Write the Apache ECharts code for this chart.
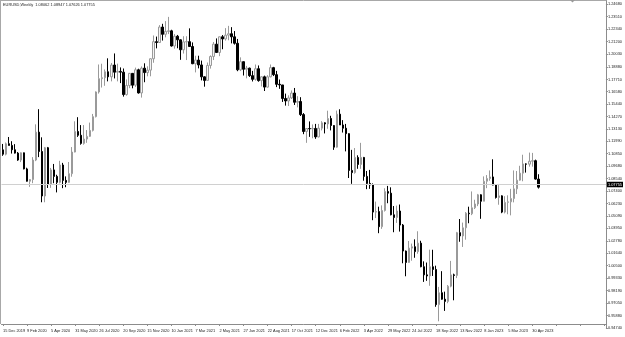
<!DOCTYPE html>
<html><head><meta charset="utf-8">
<script src="https://cdn.jsdelivr.net/npm/echarts@6/dist/echarts.min.js"></script>
<style>html,body{margin:0;padding:0;background:#fff}#c{width:625px;height:337px}</style>
</head><body><div id="c"></div>
<script>
const titleText = 'EURUSD,Weekly  1.08062 1.08947 1.07626 1.07755';
const dateLabels = ['15 Dec 2019','9 Feb 2020','5 Apr 2020','31 May 2020','26 Jul 2020','20 Sep 2020','15 Nov 2020','10 Jan 2021','7 Mar 2021','2 May 2021','27 Jun 2021','22 Aug 2021','17 Oct 2021','12 Dec 2021','6 Feb 2022','3 Apr 2022','29 May 2022','24 Jul 2022','18 Sep 2022','13 Nov 2022','8 Jan 2023','5 Mar 2023','30 Apr 2023'];
const priceLabels = ['1.24680','1.23510','1.22340','1.21200','1.20030','1.18880','1.17710','1.16580','1.15440','1.14270','1.13130','1.11990','1.10850','1.09680','1.08540','1.07400','1.06230','1.05090','1.03950','1.02780','1.01640','1.00500','0.99330','0.98190','0.97050','0.95880','0.94740'];
const lastPrice = 1.07755;

const openV = [
1.1120,1.1080,1.1177,1.1161,1.1121,1.1090,1.1026,1.1093,1.0944,1.0830,
1.0846,1.1026,1.1284,1.1105,1.0694,1.1140,1.0803,1.0935,1.0875,1.0820,
1.0980,1.0838,1.0820,1.0900,1.1100,1.1290,1.1255,1.1180,1.1220,1.1245,
1.1300,1.1427,1.1655,1.1778,1.1787,1.1842,1.1795,1.1904,1.1838,1.1845,
1.1838,1.1631,1.1715,1.1827,1.1718,1.1860,1.1646,1.1875,1.1834,1.1857,
1.1962,1.2120,1.2112,1.2255,1.2188,1.2215,1.2220,1.2080,1.2170,1.2137,
1.2045,1.2118,1.2120,1.2075,1.1916,1.1950,1.1905,1.1795,1.1762,1.1900,
1.1983,1.2097,1.2020,1.2165,1.2145,1.2180,1.2193,1.2165,1.2105,1.1860,
1.1935,1.1865,1.1875,1.1806,1.1772,1.1870,1.1760,1.1795,1.1700,1.1795,
1.1880,1.1815,1.1726,1.1720,1.1595,1.1572,1.1600,1.1645,1.1560,1.1567,
1.1446,1.1290,1.1317,1.1315,1.1318,1.1240,1.1320,1.1370,1.1360,1.1410,
1.1345,1.1145,1.1450,1.1350,1.1320,1.1270,1.0930,1.0910,1.1050,1.0985,
1.1050,1.0875,1.0810,1.0795,1.0545,1.0550,1.0410,1.0560,1.0735,1.0720,
1.0520,1.0495,1.0555,1.0425,1.0185,1.0080,1.0212,1.0225,1.0180,1.0258,
1.0040,0.9965,0.9955,1.0040,1.0015,0.9690,0.9800,0.9740,0.9720,0.9860,
0.9965,0.9960,1.0355,1.0325,1.0400,1.0535,1.0530,1.0585,1.0620,1.0705,
1.0645,1.0830,1.0855,1.0870,1.0795,1.0680,1.0695,1.0545,1.0635,1.0640,
1.0670,1.0760,1.0840,1.0905,1.0990,1.0988,1.1015,1.1020,1.0850];

const closeV = [
1.1080,1.1177,1.1161,1.1121,1.1090,1.1026,1.1093,1.0944,1.0830,1.0846,
1.1026,1.1284,1.1105,1.0694,1.1140,1.0803,1.0935,1.0875,1.0820,1.0980,
1.0838,1.0820,1.0900,1.1100,1.1290,1.1255,1.1180,1.1220,1.1245,1.1300,
1.1427,1.1655,1.1778,1.1787,1.1842,1.1795,1.1904,1.1838,1.1845,1.1838,
1.1631,1.1715,1.1827,1.1718,1.1860,1.1646,1.1875,1.1834,1.1857,1.1962,
1.2120,1.2112,1.2255,1.2188,1.2215,1.2220,1.2080,1.2170,1.2137,1.2045,
1.2118,1.2120,1.2075,1.1916,1.1950,1.1905,1.1795,1.1762,1.1900,1.1983,
1.2097,1.2020,1.2165,1.2145,1.2180,1.2193,1.2165,1.2105,1.1860,1.1935,
1.1865,1.1875,1.1806,1.1772,1.1870,1.1760,1.1795,1.1700,1.1795,1.1880,
1.1815,1.1726,1.1720,1.1595,1.1572,1.1600,1.1645,1.1560,1.1567,1.1446,
1.1290,1.1317,1.1315,1.1318,1.1240,1.1320,1.1370,1.1360,1.1410,1.1345,
1.1145,1.1450,1.1350,1.1320,1.1270,1.0930,1.0910,1.1050,1.0985,1.1050,
1.0875,1.0810,1.0795,1.0545,1.0550,1.0410,1.0560,1.0735,1.0720,1.0520,
1.0495,1.0555,1.0425,1.0185,1.0080,1.0212,1.0225,1.0180,1.0258,1.0040,
0.9965,0.9955,1.0040,1.0015,0.9690,0.9800,0.9740,0.9720,0.9860,0.9965,
0.9960,1.0355,1.0325,1.0400,1.0535,1.0530,1.0585,1.0620,1.0705,1.0645,
1.0830,1.0855,1.0870,1.0795,1.0680,1.0695,1.0545,1.0635,1.0640,1.0670,
1.0760,1.0840,1.0905,1.0990,1.0988,1.1015,1.1020,1.0850,1.07755];

const highV = [
1.1175,1.1188,1.1239,1.1200,1.1173,1.1100,1.1097,1.1095,1.0955,1.0850,
1.1053,1.1356,1.1496,1.1236,1.1147,1.1147,1.0953,1.0990,1.0890,1.1019,
1.1000,1.0875,1.1008,1.1146,1.1384,1.1422,1.1349,1.1349,1.1303,1.1372,
1.1452,1.1660,1.1909,1.1916,1.1863,1.1966,1.1923,1.2011,1.1917,1.1882,
1.1872,1.1771,1.1831,1.1830,1.1880,1.1870,1.1891,1.1920,1.1892,1.1965,
1.2177,1.2167,1.2273,1.2285,1.2310,1.2349,1.2230,1.2190,1.2182,1.2140,
1.2170,1.2170,1.2243,1.2113,1.1990,1.1990,1.1945,1.1800,1.1927,1.1993,
1.2117,1.2150,1.2167,1.2181,1.2245,1.2266,1.2254,1.2218,1.2145,1.1975,
1.1937,1.1896,1.1880,1.1850,1.1909,1.1900,1.1800,1.1806,1.1810,1.1909,
1.1887,1.1850,1.1770,1.1720,1.1640,1.1624,1.1669,1.1692,1.1616,1.1607,
1.1460,1.1320,1.1383,1.1355,1.1360,1.1360,1.1385,1.1375,1.1482,1.1435,
1.1350,1.1483,1.1495,1.1395,1.1360,1.1274,1.1120,1.1137,1.1070,1.1185,
1.1055,1.0925,1.0935,1.0810,1.0642,1.0595,1.0607,1.0765,1.0787,1.0774,
1.0601,1.0605,1.0615,1.0435,1.0190,1.0278,1.0254,1.0293,1.0368,1.0280,
1.0090,1.0079,1.0198,1.0197,1.0050,0.9854,0.9999,0.9810,0.9871,1.0094,
0.9976,1.0362,1.0481,1.0448,1.0545,1.0595,1.0736,1.0659,1.0713,1.0710,
1.0875,1.0887,1.0930,1.1033,1.0800,1.0805,1.0700,1.0692,1.0700,1.0760,
1.0930,1.0925,1.0973,1.1075,1.0995,1.1095,1.1092,1.1030,1.0895];

const lowV = [
1.1065,1.1069,1.1160,1.1086,1.1086,1.1019,1.1007,1.0940,1.0827,1.0778,
1.0812,1.1016,1.1053,1.0636,1.0636,1.0768,1.0769,1.0812,1.0727,1.0810,
1.0766,1.0775,1.0815,1.0872,1.1097,1.1240,1.1168,1.1168,1.1185,1.1240,
1.1290,1.1420,1.1640,1.1696,1.1712,1.1753,1.1753,1.1780,1.1753,1.1737,
1.1612,1.1621,1.1690,1.1689,1.1702,1.1640,1.1603,1.1745,1.1800,1.1800,
1.1925,1.2058,1.2110,1.2130,1.2160,1.2190,1.2075,1.2055,1.2059,1.1952,
1.2010,1.1950,1.2073,1.1912,1.1836,1.1873,1.1762,1.1704,1.1760,1.1871,
1.1950,1.2015,1.1986,1.2050,1.2130,1.2133,1.2104,1.2093,1.1847,1.1848,
1.1807,1.1781,1.1794,1.1752,1.1760,1.1750,1.1706,1.1664,1.1695,1.1790,
1.1802,1.1700,1.1684,1.1563,1.1529,1.1525,1.1590,1.1535,1.1513,1.1433,
1.1265,1.1185,1.1240,1.1227,1.1222,1.1235,1.1300,1.1272,1.1315,1.1300,
1.1120,1.1140,1.1350,1.1280,1.1106,1.0860,1.0806,1.0900,1.0945,1.0945,
1.0835,1.0757,1.0760,1.0470,1.0490,1.0350,1.0390,1.0550,1.0627,1.0515,
1.0359,1.0445,1.0365,1.0072,0.9952,1.0075,1.0096,1.0123,1.0160,1.0035,
0.9900,0.9910,0.9864,0.9955,0.9670,0.9536,0.9735,0.9632,0.9703,0.9850,
0.9730,0.9935,1.0271,1.0223,1.0290,1.0442,1.0517,1.0573,1.0600,1.0483,
1.0645,1.0766,1.0835,1.0793,1.0670,1.0613,1.0535,1.0533,1.0525,1.0515,
1.0635,1.0712,1.0835,1.0830,1.0910,1.0965,1.0965,1.0845,1.07626];

const SLOTS = 201;      // visible weekly slots (incl. empty right margin)
const LABEL_EVERY = 8;  // one date label every 8 weeks

const cats = [];
for (let i = 0; i < SLOTS; i++) {
  cats.push(i % LABEL_EVERY === 0 && dateLabels[i / LABEL_EVERY] ? dateLabels[i / LABEL_EVERY] : '');
}
const ohlc = openV.map((o, i) => [o, closeV[i], lowV[i], highV[i]]);
const priceVals = priceLabels.map(Number);
const F = '"Liberation Sans", Arial, sans-serif';
const FS = 3.9;

const chart = echarts.init(document.getElementById('c'), null, {renderer: 'canvas'});
chart.setOption({
  animation: false,
  backgroundColor: '#ffffff',
  title: {
    text: titleText, left: 3, top: 3, padding: 0,
    textStyle: {fontSize: FS, fontWeight: 'normal', color: '#222', fontFamily: F}
  },
  grid: {left: 0, right: 18, top: 1, bottom: 9},
  xAxis: {
    type: 'category', data: cats, boundaryGap: true, offset: -4,
    axisLine: {lineStyle: {color: '#8c8c8c', width: 1}},
    axisTick: {show: true, interval: LABEL_EVERY - 1, alignWithLabel: true, length: 2, lineStyle: {color: '#8c8c8c'}},
    axisLabel: {interval: LABEL_EVERY - 1, align: 'left', margin: 5, fontSize: FS, color: '#222', fontFamily: F},
    splitLine: {show: false}
  },
  yAxis: {
    type: 'value', position: 'right', min: 0.9474, max: 1.24957,
    axisLine: {show: true, lineStyle: {color: '#8c8c8c', width: 1}},
    axisTick: {show: true, length: 2, customValues: priceVals, lineStyle: {color: '#8c8c8c'}},
    axisLabel: {
      customValues: priceVals, margin: 2, fontSize: FS, color: '#222', fontFamily: F,
      formatter: v => {
        const i = priceVals.findIndex(p => Math.abs(p - v) < 1e-7);
        return i >= 0 ? priceLabels[i] : '';
      }
    },
    splitLine: {show: false}
  },
  series: [{
    type: 'candlestick',
    data: ohlc,
    barWidth: 2,
    itemStyle: {color: '#f4f4f4', color0: '#000000', borderColor: '#9a9a9a', borderColor0: '#000000', borderWidth: 1},
    markLine: {
      silent: true, symbol: 'none', animation: false,
      data: [{yAxis: lastPrice}],
      lineStyle: {color: '#d0d0d0', width: 1, type: 'solid'},
      label: {
        show: true, position: 'end', distance: 1,
        formatter: () => lastPrice.toFixed(5),
        backgroundColor: '#000', color: '#fff', fontSize: FS, fontFamily: F, padding: [1, 1, 0.5, 1]
      }
    }
  }],
  graphic: [
    {type: 'line', shape: {x1: 0, y1: 0.5, x2: 607, y2: 0.5}, style: {stroke: '#a8a8a8', lineWidth: 1}},
    {type: 'line', shape: {x1: 0.5, y1: 0, x2: 0.5, y2: 324}, style: {stroke: '#a8a8a8', lineWidth: 1}},
    {type: 'polygon', shape: {points: [[570, 0], [575, 0], [572.5, 2.5]]}, style: {fill: '#9a9a9a'}}
  ]
});
</script>
</body></html>
